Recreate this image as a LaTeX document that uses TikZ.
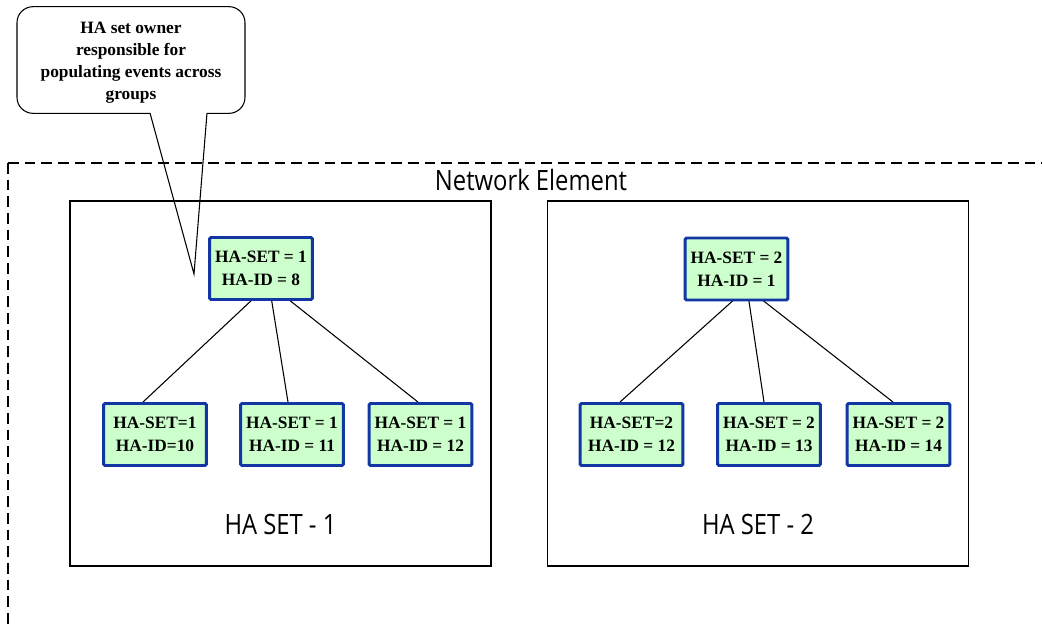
\documentclass[tikz,border=0pt]{standalone}
\usepackage{fontspec}
\setmainfont{Liberation Serif}
\newfontfamily\labelfont[FakeStretch=0.85]{Open Sans}
\usetikzlibrary{calc,backgrounds}
\definecolor{nodefill}{HTML}{CCFFCC}
\definecolor{nodeedge}{HTML}{1236A4}

\tikzset{
  hanode/.style={draw=nodeedge, fill=nodefill, line width=2.2pt, rounded corners=1pt,
    minimum width=77pt, minimum height=46.5pt, inner sep=0pt, align=center,
    font=\fontsize{13}{17}\selectfont\bfseries},
  setbox/.style={draw, line width=0.8pt, minimum width=315.75pt, minimum height=273.75pt, inner sep=0pt},
  setlabel/.style={anchor=base, inner sep=0pt, font=\labelfont\fontsize{21}{25}\selectfont},
  link/.style={line width=0.8pt},
  frame/.style={line width=1.1pt, dash pattern=on 8pt off 4.5pt},
  bubble/.style={draw, line width=0.8pt, fill=white},
  bubbletext/.style={align=center, inner sep=0pt, font=\fontsize{13}{16.5}\selectfont\bfseries}
}

\begin{document}
\begin{tikzpicture}[x=0.75pt, y=-0.75pt]
\useasboundingbox (0,0) rectangle (1042,629);

% speech bubble with its pointer
\node[bubble, rounded corners=12pt, minimum width=171pt, minimum height=80pt, inner sep=0pt] (bubble) at (131,60) {};
\coordinate (tipL) at (150,113);
\coordinate (tipR) at (207,113);
\coordinate (tip) at (194,274);
\fill[white] ($(tipL)+(0.5,-1.5)$) -- (tipL) -- (tip) -- (tipR) -- ($(tipR)+(-0.5,-1.5)$) -- cycle;
\draw[line width=0.8pt, line join=miter] (tipL) -- (tip) -- (tipR);
\node[bubbletext] (note) at (131,63) {HA set owner\\responsible for\\populating events across\\groups};

% outer dashed frame
\coordinate (corner) at (8,163);
\coordinate (frameR) at (1042,163);
\coordinate (frameB) at (8,629);
\draw[frame] (corner) -- (frameR);
\draw[frame] (corner) -- (frameB);
\node[setlabel] (ne) at (531,190) {Network Element};

% the two HA sets
\node[setbox] (set1) at (280.5,383.5) {};
\node[setbox] (set2) at (758,383.5) {};
\node[setlabel] (lab1) at (280.5,534) {HA SET - 1};
\node[setlabel] (lab2) at (758,534) {HA SET - 2};

% HA set 1 members
\node[hanode] (t1) at (261,268.5) {HA-SET = 1\\HA-ID = 8};
\node[hanode] (c11) at (155,434.5) {HA-SET=1\\HA-ID=10};
\node[hanode] (c12) at (292,434.5) {HA-SET = 1\\HA-ID = 11};
\node[hanode] (c13) at (420.5,434.5) {HA-SET = 1\\HA-ID = 12};
\coordinate (hub1) at ($(t1.center)+(8,15.5)$);

% HA set 2 members
\node[hanode] (t2) at (736.5,269) {HA-SET = 2\\HA-ID = 1};
\node[hanode] (c21) at (631.5,434.5) {HA-SET=2\\HA-ID = 12};
\node[hanode] (c22) at (769,434.5) {HA-SET = 2\\HA-ID = 13};
\node[hanode] (c23) at (898.5,434.5) {HA-SET = 2\\HA-ID = 14};
\coordinate (hub2) at ($(t2.center)+(10.5,19)$);

% tree links, kept behind the boxes
\begin{scope}[on background layer]
\draw[link] (hub1) -- ($(c11.north)+(-12,0)$);
\draw[link] (hub1) -- ($(c12.north)+(-4,0)$);
\draw[link] (hub1) -- ($(c13.north)+(-2.5,0)$);
\draw[link] (hub2) -- ($(c21.north)+(-11.5,0)$);
\draw[link] (hub2) -- ($(c22.north)+(-5,0)$);
\draw[link] (hub2) -- ($(c23.north)+(-5.5,0)$);
\end{scope}
\end{tikzpicture}
\end{document}
